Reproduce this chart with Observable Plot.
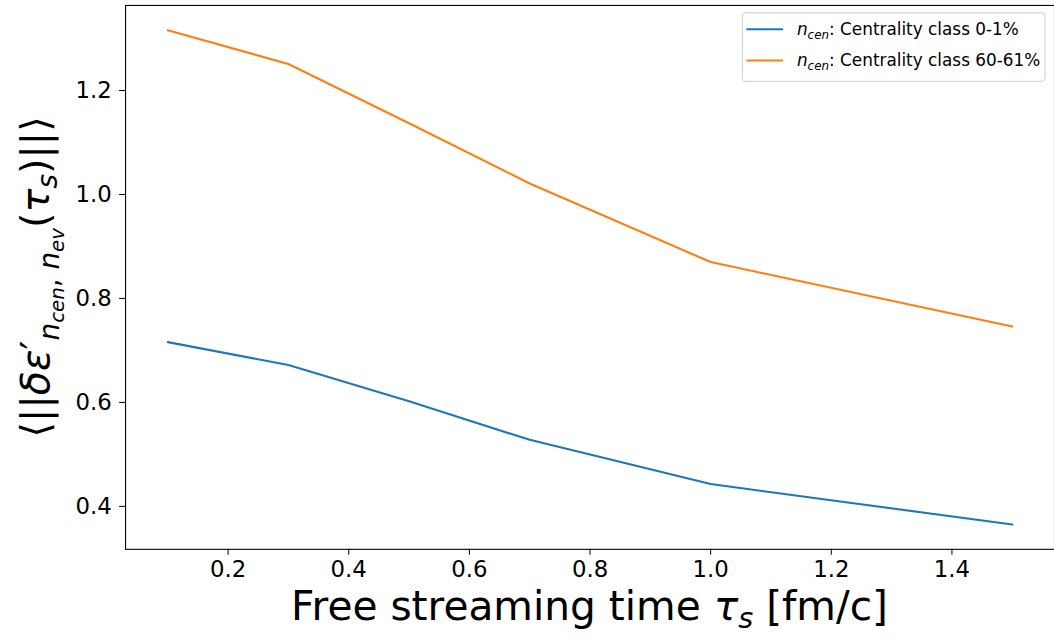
<!DOCTYPE html>
<html><head><meta charset="utf-8">
<script src="https://cdn.jsdelivr.net/npm/d3@7"></script>
<script src="https://cdn.jsdelivr.net/npm/@observablehq/plot@0.6"></script>
<style>
html,body{margin:0;padding:0;background:#fff;}
#chart{width:1054px;height:641px;overflow:hidden;position:relative;}
svg text{font-family:"DejaVu Sans";}
</style></head><body><div id="chart"></div>
<script>
const tau = [0.1, 0.3, 0.5, 0.7, 1.0, 1.5];
const central = [0.716, 0.672, 0.602, 0.528, 0.443, 0.365];
const peripheral = [1.316, 1.251, 1.137, 1.021, 0.870, 0.746];
const seriesNames = ["Centrality class 0-1%", "Centrality class 60-61%"];
const xTicks = [0.2, 0.4, 0.6, 0.8, 1.0, 1.2, 1.4];
const yTicks = [0.4, 0.6, 0.8, 1.0, 1.2];
const colors = ["#1f77b4", "#ff7f0e"];

const rows = [];
tau.forEach((t, i) => rows.push({tau: t, v: central[i], s: seriesNames[0]}));
tau.forEach((t, i) => rows.push({tau: t, v: peripheral[i], s: seriesNames[1]}));

const plot = Plot.plot({
  width: 1062, height: 641,
  marginLeft: 126, marginRight: 0, marginTop: 5, marginBottom: 88,
  style: {fontFamily: "DejaVu Sans", fontSize: "22px", color: "#000", background: "#fff"},
  x: {domain: [0.03, 1.57]},
  y: {domain: [0.3174, 1.3636]},
  color: {domain: seriesNames, range: colors},
  marks: [
    Plot.line(rows, {x: "tau", y: "v", stroke: "s", z: "s", strokeWidth: 2.1}),
    Plot.frame({stroke: "#000", strokeWidth: 1.1}),
    Plot.axisX({ticks: xTicks, tickFormat: d3.format(".1f"), tickSize: 6, tickPadding: 6, label: null, fontSize: 23}),
    Plot.axisY({ticks: yTicks, tickFormat: d3.format(".1f"), tickSize: 6, tickPadding: 8, label: null, fontSize: 23})
  ]
});
document.getElementById("chart").appendChild(plot);

const svg = d3.select(plot);

// x label
const xl = svg.append("text").attr("x", 594).attr("y", 625).attr("text-anchor", "middle")
  .attr("font-size", 41).attr("fill", "#000");
xl.append("tspan").text("Free streaming time ");
xl.append("tspan").attr("font-style", "italic").text("τ");
xl.append("tspan").attr("font-style", "italic").attr("font-size", 29).attr("dy", 8).text("s");
xl.append("tspan").attr("dy", -8).text(" [fm/c]");

// y label
const yl = svg.append("text").attr("transform", "translate(49,279) rotate(-90)")
  .attr("text-anchor", "middle").attr("font-size", 40).attr("fill", "#000");
yl.append("tspan").text("⟨||");
yl.append("tspan").attr("font-style", "italic").text("δε");
yl.append("tspan").text("′");
yl.append("tspan").attr("font-style", "italic").attr("font-size", 28).attr("dy", 10).text("n");
yl.append("tspan").attr("font-style", "italic").attr("font-size", 20).attr("dy", 5).text("cen");
yl.append("tspan").attr("font-size", 28).attr("dy", -5).text(", ");
yl.append("tspan").attr("font-style", "italic").attr("font-size", 28).text("n");
yl.append("tspan").attr("font-style", "italic").attr("font-size", 20).attr("dy", 5).text("ev");
yl.append("tspan").attr("dy", -15).text("(");
yl.append("tspan").attr("font-style", "italic").text("τ");
yl.append("tspan").attr("font-style", "italic").attr("font-size", 28).attr("dy", 8).text("s");
yl.append("tspan").attr("dy", -8).text(")||⟩");

// legend
const lg = svg.append("g").attr("text-anchor", "start");
lg.append("rect").attr("x", 748).attr("y", 13).attr("width", 305).attr("height", 69).attr("rx", 3)
  .attr("fill", "#fff").attr("fill-opacity", 0.8).attr("stroke", "#ccc").attr("stroke-width", 1);
seriesNames.forEach((name, i) => {
  const cy = 29.5 + i * 31.5;
  lg.append("line").attr("x1", 752).attr("x2", 789).attr("y1", cy).attr("y2", cy)
    .attr("stroke", colors[i]).attr("stroke-width", 2.1);
  const t = lg.append("text").attr("x", 803).attr("y", cy + 6).attr("text-anchor", "start")
    .attr("font-size", 17).attr("fill", "#000");
  t.append("tspan").attr("font-style", "italic").text("n");
  t.append("tspan").attr("font-style", "italic").attr("font-size", 12).attr("dy", 4).text("cen");
  t.append("tspan").attr("dy", -4).text(": " + name);
});
</script>
</body></html>
